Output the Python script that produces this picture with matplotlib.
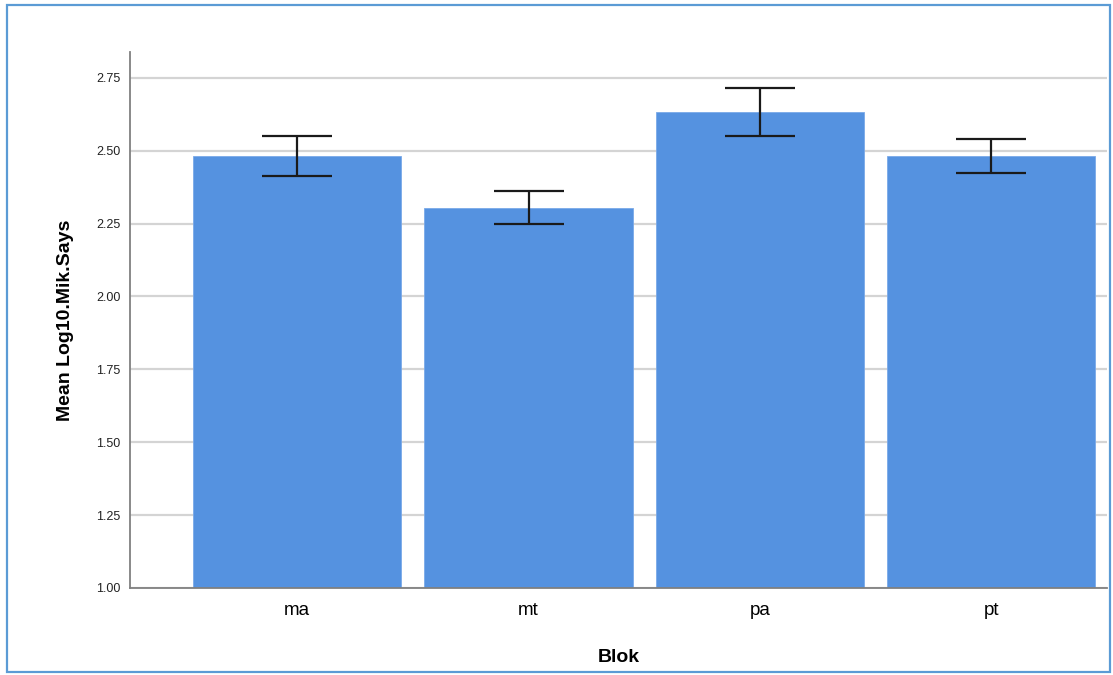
import numpy as np
import matplotlib
matplotlib.use("Agg")
import matplotlib.pyplot as plt
from matplotlib.patches import Rectangle

plt.rcParams['font.family'] = ['Liberation Sans', 'DejaVu Sans']

# Mean Log10.Mik.Says per block, with error bar bounds
blocks = ["ma", "mt", "pa", "pt"]
means = [2.482, 2.304, 2.633, 2.482]
err_low = [2.414, 2.249, 2.551, 2.424]
err_high = [2.551, 2.362, 2.716, 2.541]
yticks = [1.00, 1.25, 1.50, 1.75, 2.00, 2.25, 2.50, 2.75]

fig = plt.figure(figsize=(11.13, 6.75), dpi=100)
ax = fig.add_axes([0.1168, 0.129, 0.878, 0.794])

x = np.arange(len(blocks))
means_a = np.array(means)
yerr = np.vstack([means_a - np.array(err_low), np.array(err_high) - means_a])

base = 1.0
ax.bar(x, means_a - base, bottom=base, width=0.9, color="#5592e0",
       edgecolor="#7aa9e8", linewidth=0.6, zorder=2)
ax.errorbar(x, means_a, yerr=yerr, fmt="none", ecolor="#1a1a1a",
            elinewidth=1.6, capsize=25, capthick=1.6, zorder=3)

ax.set_xlim(-0.723, 3.502)
ax.set_ylim(1.0, 2.839)
ax.set_yticks(yticks)
ax.set_yticklabels([f"{v:.2f}" for v in yticks], fontsize=9, color="#222222")
ax.set_xticks(x)
ax.set_xticklabels(blocks, fontsize=13.5)
ax.tick_params(axis="both", length=0)
ax.tick_params(axis="y", pad=7)
ax.tick_params(axis="x", pad=10)

ax.yaxis.grid(True, color="#d4d4d4", linewidth=1.6, zorder=0)
ax.set_axisbelow(True)
for s in ["top", "right"]:
    ax.spines[s].set_visible(False)
for s in ["left", "bottom"]:
    ax.spines[s].set_color("#808080")
    ax.spines[s].set_linewidth(1.3)

ax.set_ylabel("Mean Log10.Mik.Says", fontsize=14, fontweight="bold", labelpad=16)
ax.set_xlabel("Blok", fontsize=14, fontweight="bold", labelpad=22)

# thin blue frame around the whole chart
fig.patches.append(Rectangle((0.006, 0.004), 0.991, 0.989, transform=fig.transFigure,
                             fill=False, edgecolor="#5b9bd5", linewidth=1.6))

fig.savefig("out.png", dpi=100)
